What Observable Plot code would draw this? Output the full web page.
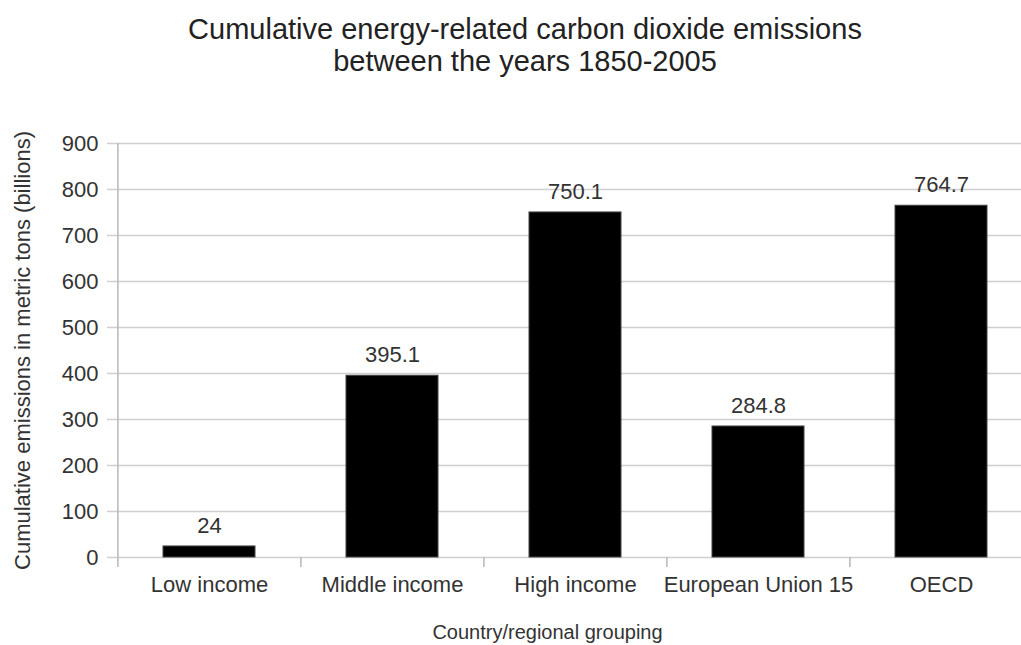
<!DOCTYPE html>
<html>
<head>
<meta charset="utf-8">
<script src="https://cdn.jsdelivr.net/npm/d3@7"></script>
<script src="https://cdn.jsdelivr.net/npm/@observablehq/plot@0.6"></script>
<style>
  html, body { margin: 0; padding: 0; background: #fff; overflow: hidden; }
  body { width: 1021px; height: 645px; font-family: "Liberation Sans", Arial, sans-serif; }
  #title { width: 1050px; height: 100px; box-sizing: border-box; padding-top: 13px; text-align: center;
           font-size: 29px; line-height: 32px; color: #222; }
  #chart svg { display: block; overflow: hidden; }
</style>
</head>
<body>
<div id="title">Cumulative energy-related carbon dioxide emissions<br>between the years 1850-2005</div>
<div id="chart"></div>
<script>
const categories = ["Low income", "Middle income", "High income", "European Union 15", "OECD"];
const values = [24, 395.1, 750.1, 284.8, 764.7];
const valueLabels = ["24", "395.1", "750.1", "284.8", "764.7"];
const yTicks = [0, 100, 200, 300, 400, 500, 600, 700, 800, 900];
const xTitle = "Country/regional grouping";
const yTitle = "Cumulative emissions in metric tons (billions)";

const data = categories.map((c, i) => ({category: c, value: values[i], label: valueLabels[i]}));

const W = 1021, H = 545, ML = 117, MR = -12, MT = 43, MB = 88;
const step = (W - MR - ML) / categories.length;
const font = "Liberation Sans, Arial, sans-serif";

const chart = Plot.plot({
  width: W,
  height: H,
  marginLeft: ML,
  marginRight: MR,
  marginTop: MT,
  marginBottom: MB,
  style: {fontFamily: font, background: "#fff", overflow: "hidden"},
  x: {domain: categories, paddingInner: 0.5, paddingOuter: 0.25},
  y: {domain: [0, 900]},
  marks: [
    Plot.gridY(yTicks, {stroke: "#cfcfcf", strokeOpacity: 1, strokeWidth: 1.5, insetLeft: -10}),
    Plot.ruleX(categories, {x: d => d, y1: -22, y2: 0, dx: -step / 2, stroke: "#b8b8b8", strokeWidth: 1.5}),
    Plot.ruleX([categories[0]], {x: d => d, y1: 0, y2: 900, dx: -step / 2, stroke: "#b8b8b8", strokeWidth: 1.5}),
    Plot.barY(data, {x: "category", y: "value", fill: "#000", stroke: "#444", strokeWidth: 1}),
    Plot.text(data, {x: "category", y: "value", text: "label", dy: -21, fontSize: 22, fill: "#333", lineAnchor: "middle"}),
    Plot.axisY(yTicks, {tickSize: 0, tickPadding: 19, fontSize: 22, fill: "#333", label: null}),
    Plot.axisX({tickSize: 0, tickPadding: 19, fontSize: 22, fill: "#333", label: null}),
    Plot.text([xTitle], {frameAnchor: "bottom", dx: -28, dy: 75, fontSize: 20, fill: "#333", lineAnchor: "middle", textAnchor: "middle"}),
    Plot.text([yTitle], {frameAnchor: "left", rotate: -90, dx: -95, fontSize: 22, fill: "#333", lineAnchor: "middle", textAnchor: "middle"})
  ]
});
document.getElementById("chart").appendChild(chart);
</script>
</body>
</html>
